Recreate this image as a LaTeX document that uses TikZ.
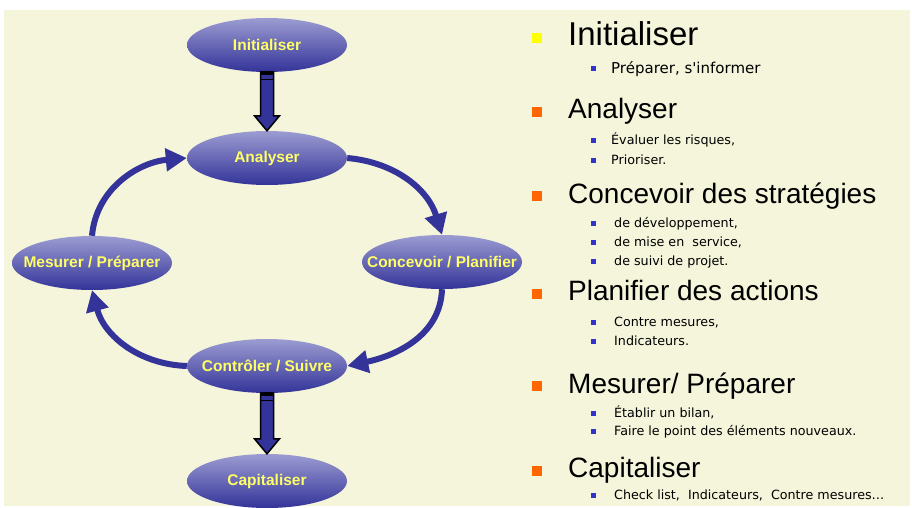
\documentclass[tikz,border=0pt]{standalone}
\usepackage{fontspec}
\setmainfont{Liberation Sans}
\newfontfamily\itemfont{DejaVu Sans}
\usepackage{tikz}
\usetikzlibrary{arrows.meta,positioning,shapes.geometric,calc}
\definecolor{slidecream}{HTML}{F5F5DC}
\definecolor{cycleblue}{HTML}{333399}
\definecolor{cyclelight}{HTML}{9C9CD2}
\definecolor{labelyellow}{HTML}{FFFF66}
\definecolor{bulletorange}{HTML}{FF6600}
\definecolor{bulletyellow}{HTML}{FFFF00}
\definecolor{bulletblue}{HTML}{3333CC}

\tikzset{
  phasetext/.style={text=labelyellow,font=\fontsize{15.5}{17}\selectfont\bfseries},
  phase/.style={ellipse,minimum width=160pt,minimum height=54pt,inner sep=0pt,
    top color=cyclelight,bottom color=cycleblue,label={[phasetext]center:#1}},
  cyclearrow/.style={line width=6pt,cycleblue,-{Triangle[length=21pt,width=22pt]}},
  blockarrow/.style={fill=cycleblue,draw=black,line width=1.5pt,line join=miter},
  headline/.style={anchor=base west,inner sep=0pt,font=\fontsize{28}{32}\selectfont},
  subline/.style={anchor=base west,inner sep=0pt,font=\itemfont\fontsize{12.7}{15}\selectfont},
}

% straight block arrow between two phases
\newcommand\stagearrow[2]{%
  \draw[blockarrow] ($(#1.south)+(-6.5,0)$) -- ($(#2.north)+(-6.5,15)$)
    -- ($(#2.north)+(-12.5,15)$) -- (#2.north) -- ($(#2.north)+(12.5,15)$)
    -- ($(#2.north)+(6.5,15)$) -- ($(#1.south)+(6.5,0)$) -- cycle;
  \fill[black] ($(#1.south)+(-7.2,1)$) rectangle ($(#1.south)+(7.2,-2.5)$);
  \draw[black,line width=1.2pt] ($(#1.south)+(-6.5,-7)$) -- ($(#1.south)+(6.5,-7)$);
}

\begin{document}
\begin{tikzpicture}[x=1pt,y=1pt]
  \useasboundingbox (0,0) rectangle (912,-508);
  \fill[slidecream] (4,-10) rectangle (910,-506);

  % cycle
  \node[phase=Initialiser] (init) at (267,-45) {};
  \node[phase=Analyser] (ana) at (267,-158) {};
  \node[phase=Concevoir / Planifier] (conc) at (442,-262) {};
  \node[phase=Mesurer / Préparer] (mes) at (92,-263) {};
  \node[phase=Contrôler / Suivre] (ctrl) at (267,-366) {};
  \node[phase=Capitaliser] (cap) at (267,-481) {};

  \stagearrow{init}{ana}
  \stagearrow{ctrl}{cap}

  \draw[cyclearrow] (mes.north) to[out=85,in=185] (ana.west);
  \draw[cyclearrow] (ana.east) to[out=-5,in=107] (conc.north);
  \draw[cyclearrow] (conc.south) to[out=-92,in=12] (ctrl.east);
  \draw[cyclearrow] (ctrl.west) to[out=178,in=-75] (mes.south);

  % list
  \fill[bulletyellow] (532,-33) rectangle (542,-43);
  \foreach \y in {112,196,294,386,471}
    \fill[bulletorange] (532,-\y+5) rectangle (542,-\y-5);

  \node[headline,font=\fontsize{33}{36}\selectfont] (hinit) at (568,-46) {Initialiser};
  \node[headline] (hana) at (568,-119) {Analyser};
  \node[headline] (hconc) at (568,-203) {Concevoir des stratégies};
  \node[headline] (hplan) at (568,-300) {Planifier des actions};
  \node[headline] (hmes) at (568,-393) {Mesurer/ Préparer};
  \node[headline] (hcap) at (568,-477) {Capitaliser};

  \foreach \y in {69,140,160,223,242,261,322,341,413,431,495}
    \fill[bulletblue] (591,-\y+2.5) rectangle (596,-\y-2.5);

  \node[subline,font=\itemfont\fontsize{15}{17}\selectfont] (s1) at (611,-74) {Préparer, s'informer};
  \node[subline] (s2) at (611,-144) {Évaluer les risques,};
  \node[subline] (s3) at (611,-164) {Prioriser.};
  \node[subline] (s4) at (614,-227) {de développement,};
  \node[subline] (s5) at (614,-246) {de mise en\ \ service,};
  \node[subline] (s6) at (614,-265) {de suivi de projet.};
  \node[subline] (s7) at (614,-326) {Contre mesures,};
  \node[subline] (s8) at (614,-345) {Indicateurs.};
  \node[subline] (s9) at (614,-417) {Établir un bilan,};
  \node[subline] (s10) at (614,-435) {Faire le point des éléments nouveaux.};
  \node[subline] (s11) at (614,-499) {Check list,\ \ Indicateurs,\ \ Contre mesures…};
\end{tikzpicture}
\end{document}
